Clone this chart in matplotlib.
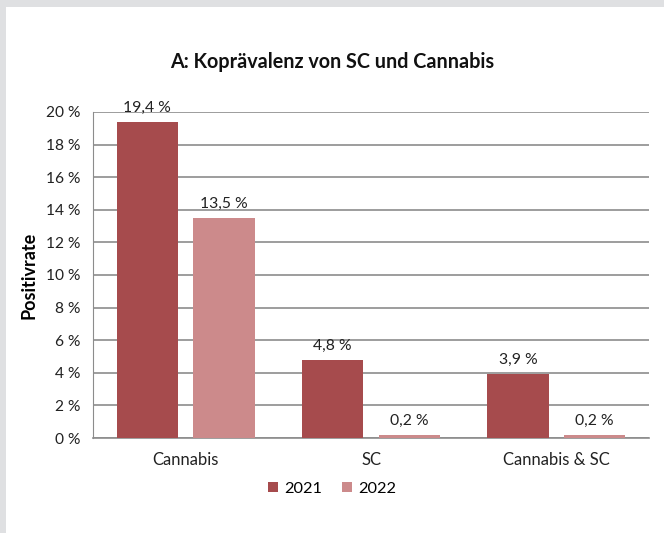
import numpy as np
import matplotlib.pyplot as plt
from matplotlib.patches import Rectangle

plt.rcParams['font.family'] = ['Lato', 'DejaVu Sans']

categories = ["Cannabis", "SC", "Cannabis & SC"]
years = ["2021", "2022"]
rate_2021 = [19.4, 4.8, 3.9]
rate_2022 = [13.5, 0.2, 0.2]
colors = ["#A64B4D", "#CC8A8B"]

fig = plt.figure(figsize=(6.64, 5.33), dpi=100)
fig.patch.set_facecolor("#DFE0E2")
# white panel inside the grey frame
fig.patches.append(Rectangle((6 / 664, 0), 1, (533 - 7) / 533, transform=fig.transFigure,
                             facecolor="white", edgecolor="none", zorder=-10))

ax = fig.add_axes([93 / 664, (533 - 438) / 533, 556 / 664, 326 / 533])
ax.set_facecolor("white")

x = np.arange(len(categories))
width = 0.33
offset = 0.207

for vals, year, color, dx in zip([rate_2021, rate_2022], years, colors, [-offset, offset]):
    bars = ax.bar(x + dx, vals, width=width, color=color, label=year, zorder=3)
    for b, v in zip(bars, vals):
        ax.text(b.get_x() + b.get_width() / 2, v + 0.45, f"{v:.1f} %".replace(".", ","),
                ha="center", va="bottom", fontsize=11.3, color="#222222")

ax.set_xlim(-0.5, 2.5)
ax.set_ylim(0, 20)
ax.set_yticks(np.arange(0, 21, 2))
ax.set_yticklabels([f"{t} %" for t in range(0, 21, 2)], fontsize=11.2, color="#222222")
ax.set_xticks(x)
ax.set_xticklabels(categories, fontsize=12, color="#222222")
ax.tick_params(axis="y", length=0, pad=9)
ax.tick_params(axis="x", length=0, pad=10)
ax.yaxis.grid(True, color="#8C8C8C", linewidth=1.2, zorder=0)
ax.set_axisbelow(True)
for side in ["top", "right"]:
    ax.spines[side].set_visible(False)
ax.spines["left"].set_color("#8C8C8C")
ax.spines["bottom"].set_color("#8C8C8C")
ax.spines["bottom"].set_linewidth(1.2)

ax.set_ylabel("Positivrate", fontsize=13, fontweight="bold", labelpad=6)
fig.text(0.5, (533 - 62) / 533, "A: Koprävalenz von SC und Cannabis", ha="center", va="center",
         fontsize=14.2, fontweight="bold", color="#111111")

fig.legend(loc="center", bbox_to_anchor=(0.5, (533 - 489) / 533), ncol=2, frameon=False,
           fontsize=11.8, handlelength=0.6, handleheight=0.6, handletextpad=0.4, columnspacing=1.2)

fig.savefig("out.png", dpi=100)
